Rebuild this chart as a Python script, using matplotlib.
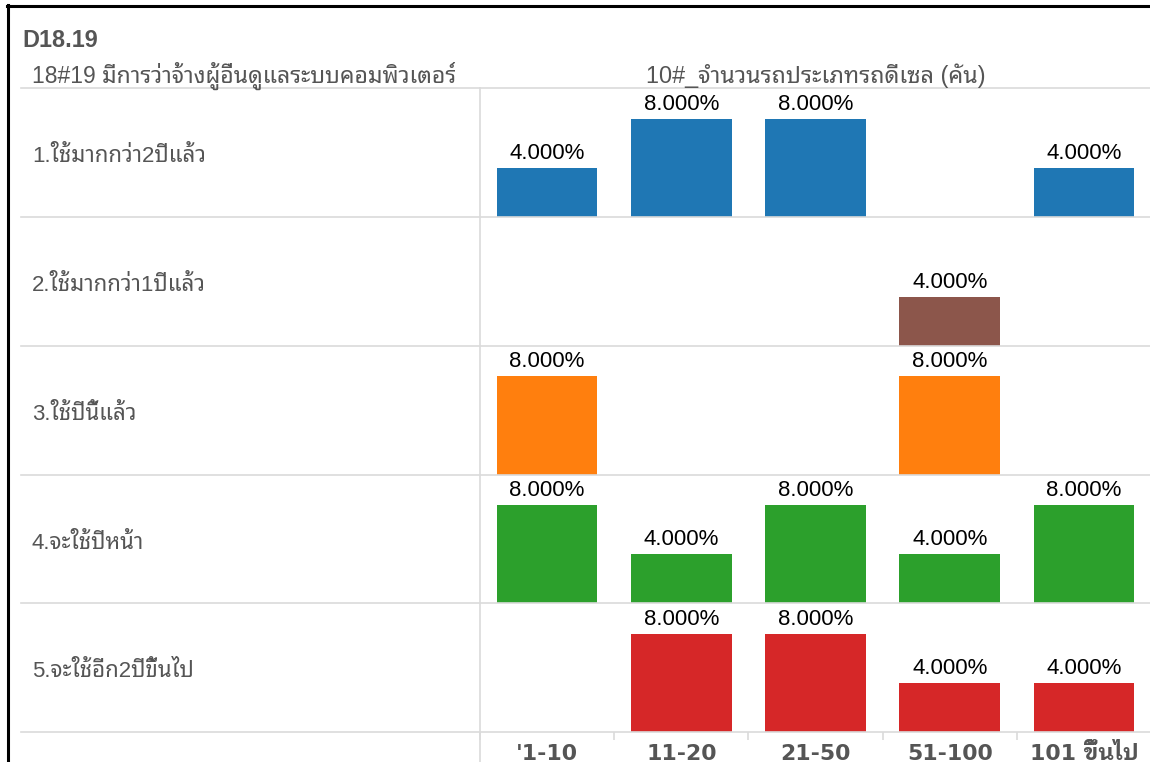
import numpy as np
import matplotlib
matplotlib.use("Agg")
import matplotlib.pyplot as plt
from matplotlib.lines import Line2D

# ---- data -------------------------------------------------------------
title = "D18.19"
row_header = "18#19 มีการว่าจ้างผู้อื่นดูแลระบบคอมพิวเตอร์"
col_header = "10#_จำนวนรถประเภทรถดีเซล (คัน)"
categories = ["'1-10", "11-20", "21-50", "51-100", "101 ขึ้นไป"]
row_labels = ["1.ใช้มากกว่า2ปีแล้ว", "2.ใช้มากกว่า1ปีแล้ว", "3.ใช้ปีนี้แล้ว",
              "4.จะใช้ปีหน้า", "5.จะใช้อีก2ปีขึ้นไป"]
nan = np.nan
use_2y_ago = [4.0, 8.0, 8.0, nan, 4.0]
use_1y_ago = [nan, nan, nan, 4.0, nan]
use_this_year = [8.0, nan, nan, 8.0, nan]
use_next_year = [8.0, 4.0, 8.0, 4.0, 8.0]
use_2y_later = [nan, 8.0, 8.0, 4.0, 4.0]
row_values = [use_2y_ago, use_1y_ago, use_this_year, use_next_year, use_2y_later]
row_colors = ["#1f77b4", "#8c564b", "#ff7f0e", "#2ca02c", "#d62728"]

# ---- styling ----------------------------------------------------------
THAI = "Noto Sans Thai Looped"
FAM = ["Liberation Sans", THAI, "DejaVu Sans"]
TICK_FAM = ["DejaVu Sans", "IBM Plex Sans Thai Looped", THAI]
plt.rcParams["font.family"] = FAM
TXT = "#555555"
GRID = "#dadada"

W, H = 1150, 762
fig = plt.figure(figsize=(W / 100, H / 100), dpi=100)

def fx(px):
    return px / W

def fy(py):
    return 1 - py / H

# outer frame (top and left edges)
fig.add_artist(Line2D([fx(7), fx(1150)], [fy(6), fy(6)], color="black", lw=2.2))
fig.add_artist(Line2D([fx(8), fx(8)], [fy(5), fy(762)], color="black", lw=2.2))

# headers
fig.text(fx(22), fy(47), title, fontsize=16.8, fontweight="bold", color=TXT,
         va="baseline", ha="left")
fig.text(fx(32), fy(83), row_header, fontsize=16.5, color=TXT, va="baseline",
         ha="left")

plot_left, plot_right = 480, 1151
row_top, row_h = 88.3, 128.75
n_rows = len(row_values)

fig.text(fx((plot_left + plot_right) / 2), fy(83), col_header, fontsize=16.8,
         color=TXT, va="baseline", ha="center")

# horizontal separators
for k in range(n_rows + 1):
    y = row_top + k * row_h
    fig.add_artist(Line2D([fx(21), fx(1150)], [fy(y), fy(y)], color=GRID, lw=1.2))
# vertical divider between labels and panes
fig.add_artist(Line2D([fx(plot_left), fx(plot_left)], [fy(row_top), fy(762)],
                      color=GRID, lw=1.2))

x = np.arange(len(categories))
axes = []
for k, (vals, color, lab) in enumerate(zip(row_values, row_colors, row_labels)):
    top = row_top + k * row_h
    ax = fig.add_axes([fx(plot_left), fy(top + row_h), fx(plot_right) - fx(plot_left),
                       row_h / H])
    ax.set_facecolor("none")
    vals = np.asarray(vals, dtype=float)
    mask = ~np.isnan(vals)
    ax.bar(x[mask], vals[mask], width=0.75, color=color)
    for xi, v in zip(x[mask], vals[mask]):
        ax.annotate(f"{v:.3f}%", xy=(xi, v), xytext=(0, 3), textcoords="offset points",
                    ha="center", va="bottom", fontsize=16, color="black",
                    family=FAM, annotation_clip=False)
    ax.set_xlim(-0.5, len(categories) - 0.5)
    ax.set_ylim(0, 10.5)
    for s in ax.spines.values():
        s.set_visible(False)
    ax.set_yticks([])
    ax.set_xticks([])
    fig.text(fx(32), fy(top + 74), lab, fontsize=16, color=TXT, va="baseline",
             ha="left")
    axes.append(ax)

# category axis along the bottom pane: ticks on the pane boundaries,
# labels at the bar centres
bottom = axes[-1]
bottom.set_xticks(np.arange(len(categories) + 1) - 0.5)
bottom.set_xticklabels([])
bottom.tick_params(axis="x", which="major", length=6, width=1.2, color=GRID,
                   direction="out")
bottom.set_xticks(x, minor=True)
bottom.set_xticklabels(categories, minor=True, fontsize=15.8, fontweight="bold",
                       color=TXT, family=TICK_FAM)
bottom.tick_params(axis="x", which="minor", length=0, pad=19.8)
for t in bottom.get_xticklabels(minor=True):
    t.set_verticalalignment("baseline")

fig.savefig("out.png", dpi=100)
